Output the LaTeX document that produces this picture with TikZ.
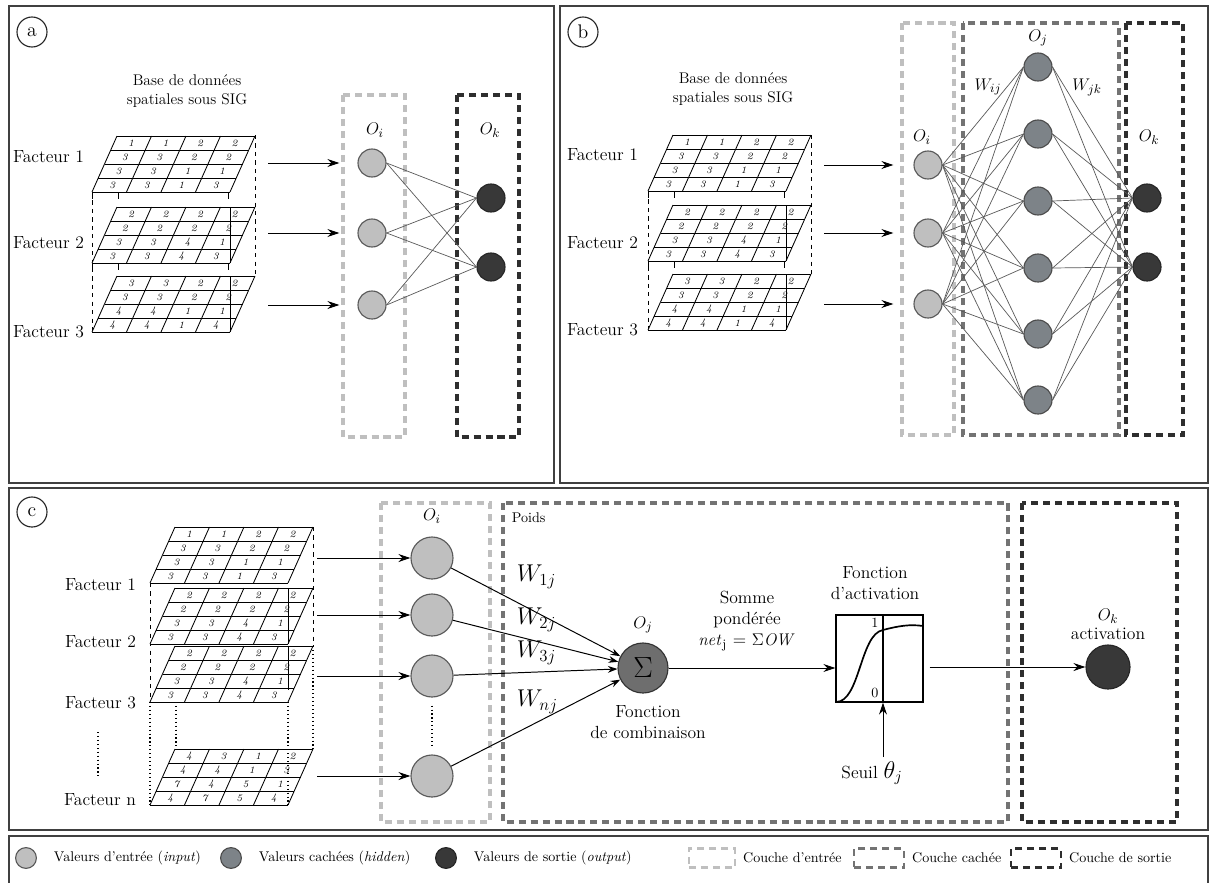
\documentclass[tikz,border=0pt]{standalone}
\usepackage{color}
\usetikzlibrary{positioning}
\usetikzlibrary{arrows.meta}

\definecolor{griscache}{RGB}{125,131,136}

% grille d'un facteur : nom, coin bas-gauche (x,y), lignes de valeurs
\newcommand{\grille}[4]{%
  \begin{scope}[shift={(#2,#3)}]
    \fill[white] (0,0) -- (138,0) -- (163,-56) -- (25,-56) -- cycle;
    \foreach \v in {0,...,4}
      \draw[trame] ({\v*6.25},{-\v*14}) -- ({138+\v*6.25},{-\v*14});
    \foreach \u in {0,...,4}
      \draw[trame] ({\u*34.5},0) -- ({\u*34.5+25},-56);
    \foreach \ligne [count=\r] in {#4}
      \foreach \val [count=\c] in \ligne
        \node[chiffre] (#1-\r\c) at ({(\c-0.5)*34.5+(4.5-\r)*6.25},{-(4.5-\r)*14}) {\val};
  \end{scope}}
% petits pieds sous une grille
\newcommand{\pieds}[2]{%
  \draw[trame] (#1,#2) -- ++(0,7) (#1+26,#2) -- ++(0,7) (#1+136,#2) -- ++(0,7);}

\begin{document}
\begin{tikzpicture}
  [x=0.025cm, y=-0.025cm,
   entree/.style={circle,draw=black!65,fill=black!25,thick,minimum size=0.7cm,inner sep=0},
   cachee/.style={circle,draw=black!70,fill=griscache,thick,minimum size=0.7cm,inner sep=0},
   sortie/.style={circle,draw=black!85,fill=black!78,thick,minimum size=0.7cm,inner sep=0},
   lien/.style={draw=black!65,line width=0.5pt},
   fleche/.style={-{Stealth[length=3mm,width=2mm]},line width=0.7pt},
   petite fleche/.style={-{Stealth[length=2.4mm,width=1.7mm]},line width=0.7pt},
   cadre/.style={draw=black!75,line width=1.1pt},
   couche e/.style={draw=black!25,line width=2.2pt,dash pattern=on 5pt off 3.5pt},
   couche c/.style={draw=black!55,line width=2.2pt,dash pattern=on 5pt off 3.5pt},
   couche s/.style={draw=black!82,line width=2.2pt,dash pattern=on 5pt off 3.5pt},
   lettre/.style={circle,draw=black!85,line width=0.8pt,minimum size=0.75cm,inner sep=0,
                  font=\fontsize{14}{14}\selectfont},
   facteur/.style={anchor=east,font=\fontsize{12.5}{14}\selectfont},
   titre/.style={align=center,font=\fontsize{11}{13}\selectfont},
   texte/.style={align=center,font=\fontsize{12.5}{15}\selectfont},
   etiq/.style={font=\fontsize{13}{13}\selectfont},
   wlab/.style={anchor=west,font=\fontsize{17}{17}\selectfont},
   legende/.style={font=\fontsize{10}{12}\selectfont},
   trame/.style={line width=0.6pt},
   pointille/.style={dotted,line width=0.8pt},
   tirets/.style={dashed,line width=0.6pt},
   chiffre/.style={font=\fontsize{7}{7}\selectfont\itshape,inner sep=0}]

  \useasboundingbox (0,0) rectangle (1213,883);
  \clip (0,0) rectangle (1213,883);

  % ---- a ----
  \draw[cadre] (9,6) rectangle (554,483);
  \node[lettre] (la) at (32,32) {a};
  \node[titre] (bda) at (187,91) {Base de données\\spatiales sous SIG};
  \draw[tirets] (92,192) -- (92,332);
  \draw[tirets] (255,135) -- (255,276);
  \grille{ga1}{92}{192}{{1,1,2,2},{3,3,2,2},{3,3,1,1},{3,3,1,3}}
  \pieds{92}{192}
  \grille{ga2}{92}{263}{{2,2,2,2},{2,2,2,2},{3,3,4,1},{3,3,4,3}}
  \pieds{92}{263}
  \draw[trame] (230,207) -- (230,263);
  \grille{ga3}{92}{332}{{3,3,2,2},{3,3,2,2},{4,4,1,1},{4,4,1,4}}
  \draw[trame] (230,276) -- (230,332);
  \node[facteur] (fa1) at (89,157) {Facteur 1};
  \node[facteur] (fa2) at (89,243) {Facteur 2};
  \node[facteur] (fa3) at (89,332) {Facteur 3};

  \draw[couche e] (343,95) rectangle (405,437);
  \draw[couche s] (457,95) rectangle (519,437);
  \foreach \i/\y in {1/163,2/233,3/305} {
    \node[entree] (ia\i) at (372,\y) {};
    \coordinate (da\i) at (268,\y);
    \draw[fleche,shorten >=0.45cm] (da\i) -- (ia\i);
  }
  \node[sortie] (oa1) at (491,198) {};
  \node[sortie] (oa2) at (491,267) {};
  \foreach \i in {1,2,3}
    \foreach \k in {1,2}
      \draw[lien] (ia\i.east) -- (oa\k.west);
  \node[etiq] (lia) at (375,130) {$O_i$};
  \node[etiq] (loa) at (490,130) {$O_k$};

  % ---- b ----
  \draw[cadre] (560,6) rectangle (1208,483);
  \node[lettre] (lb) at (583,32) {b};
  \node[titre] (bdb) at (733,89) {Base de données\\spatiales sous SIG};
  \draw[tirets] (648,191) -- (648,330);
  \draw[tirets] (811,135) -- (811,274);
  \grille{gb1}{648}{191}{{1,1,2,2},{3,3,2,2},{3,3,1,1},{3,3,1,3}}
  \pieds{648}{191}
  \grille{gb2}{648}{261}{{2,2,2,2},{2,2,2,2},{3,3,4,1},{3,3,4,3}}
  \pieds{648}{261}
  \draw[trame] (786,205) -- (786,261);
  \grille{gb3}{648}{330}{{3,3,2,2},{3,3,2,2},{4,4,1,1},{4,4,1,4}}
  \draw[trame] (786,274) -- (786,330);
  \node[facteur] (fb1) at (643,155) {Facteur 1};
  \node[facteur] (fb2) at (643,243) {Facteur 2};
  \node[facteur] (fb3) at (643,330) {Facteur 3};

  \draw[couche e] (902,23) rectangle (954,435);
  \draw[couche c] (963,23) rectangle (1119,435);
  \draw[couche s] (1126,23) rectangle (1183,435);
  \foreach \i/\y in {1/165,2/233,3/304} {
    \node[entree] (ib\i) at (928,\y) {};
    \coordinate (db\i) at (824,\y);
    \draw[fleche,shorten >=0.5cm] (db\i) -- (ib\i);
  }
  \foreach \j/\y in {1/67,2/134,3/201,4/268,5/334,6/400}
    \node[cachee] (hb\j) at (1038,\y) {};
  \node[sortie] (ob1) at (1147,198) {};
  \node[sortie] (ob2) at (1147,267) {};
  \foreach \i in {1,2,3}
    \foreach \j in {1,...,6}
      \draw[lien] (ib\i.east) -- (hb\j.west);
  \foreach \j in {1,...,6}
    \foreach \k in {1,2}
      \draw[lien] (hb\j.east) -- (ob\k.west);
  \node[etiq] (lib) at (922,137) {$O_i$};
  \node[etiq] (ljb) at (1038,38) {$O_j$};
  \node[etiq] (lkb) at (1149,137) {$O_k$};
  \node[etiq] (wij) at (988,87) {$W_{ij}$};
  \node[etiq] (wjk) at (1087,87) {$W_{jk}$};

  % ---- c ----
  \draw[cadre] (9,488) rectangle (1208,830);
  \node[lettre] (lc) at (32,512) {c};
  \draw[tirets] (150,583) -- (150,702);
  \draw[tirets] (313,527) -- (313,646);
  \draw[pointille] (150,702) -- (150,805);
  \draw[pointille] (176,702) -- (176,749);
  \draw[pointille] (313,646) -- (313,749);
  \grille{gc1}{150}{583}{{1,1,2,2},{3,3,2,2},{3,3,1,1},{3,3,1,3}}
  \grille{gc2}{150}{644}{{2,2,2,2},{2,2,2,2},{3,3,4,1},{3,3,4,3}}
  \draw[trame] (288,588) -- (288,644);
  \grille{gc3}{150}{702}{{2,2,2,2},{2,2,2,2},{3,3,4,1},{3,3,4,3}}
  \draw[trame] (288,646) -- (288,690);
  \grille{gcn}{150}{805}{{4,3,1,2},{4,4,1,3},{7,4,5,1},{4,7,5,4}}
  \draw[pointille] (288,702) -- (288,805);
  \node[facteur] (fc1) at (141,585) {Facteur 1};
  \node[facteur] (fc2) at (141,642) {Facteur 2};
  \node[facteur] (fc3) at (141,703) {Facteur 3};
  \node[facteur] (fcn) at (141,800) {Facteur n};
  \draw[pointille] (98,732) -- (98,777);

  \draw[couche e] (381,503) rectangle (490,822);
  \draw[couche c] (503,503) rectangle (1008,822);
  \draw[couche s] (1022,503) rectangle (1177,822);
  \foreach \i/\y in {1/558,2/615,3/676,4/776} {
    \node[entree,minimum size=1.05cm] (ic\i) at (432,\y) {};
    \coordinate (dc\i) at (317,\y);
    \draw[fleche] (dc\i) -- (ic\i);
  }
  \draw[pointille,shorten >=0.2cm,shorten <=0.2cm] (ic3) -- (ic4);
  \node[etiq] (lic) at (432,516) {$O_i$};
  \node[anchor=west,font=\fontsize{10}{12}\selectfont] (poids) at (507,518) {Poids};

  \node[circle,draw=black!80,fill=black!57,thick,minimum size=1.25cm,inner sep=0,
        font=\fontsize{22}{22}\selectfont] (sum) at (643,668) {$\Sigma$};
  \foreach \i in {1,...,4}
    \draw[petite fleche] (ic\i) -- (sum);
  \node[wlab] (w1) at (512,577) {$W_{1j}$};
  \node[wlab] (w2) at (512,620) {$W_{2j}$};
  \node[wlab] (w3) at (512,653) {$W_{3j}$};
  \node[wlab] (wn) at (512,702) {$W_{nj}$};
  \node[etiq] (ljc) at (643,625) {$O_j$};
  \node[texte] (comb) at (648,722) {Fonction\\de combinaison};
  \node[texte] (somme) at (747,621) {Somme\\pondérée\\$\mathit{net}_{\mathrm{j}}$ = $\Sigma\mathit{OW}$};

  \node[draw,line width=0.9pt,minimum width=2.175cm,minimum height=2.175cm,inner sep=0] (act) at (879.5,658.5) {};
  \draw[line width=1.1pt] (883,615) -- (883,702);
  \draw[line width=1.2pt] (836,702) .. controls (860,702) and (860,634) .. (883,630)
                          .. controls (898,626) and (910,624) .. (923,626);
  \node[font=\fontsize{10}{10}\selectfont] (un) at (875,623) {1};
  \node[font=\fontsize{10}{10}\selectfont] (zero) at (875,693) {0};
  \node[texte] (fact) at (875,583) {Fonction\\d'activation};
  \draw[fleche] (sum) -- (sum -| act.west);
  \coordinate (seuilbas) at (883,757);
  \draw[fleche] (seuilbas) -- (seuilbas |- act.south);
  \node[font=\fontsize{12.5}{12}\selectfont] (seuil) at (872,773) {Seuil {\fontsize{16}{16}\selectfont$\theta_j$}};

  \node[sortie,minimum size=1.1cm] (okc) at (1108,667) {};
  \draw[fleche,shorten <=0.15cm] (act.east |- okc) -- (okc);
  \node[etiq] (lkc) at (1108,616) {$O_k$};
  \node[texte] (actc) at (1108,634) {activation};

  % ---- legende ----
  \draw[cadre] (9,836) rectangle (1208,900);
  \node[entree,minimum size=0.52cm] (le1) at (26,858) {};
  \node[legende,right=0.3cm of le1] (te1) {Valeurs d'entrée (\textit{input})};
  \node[cachee,minimum size=0.52cm] (le2) at (231,858) {};
  \node[legende,right=0.3cm of le2] (te2) {Valeurs cachées (\textit{hidden})};
  \node[sortie,minimum size=0.52cm] (le3) at (446,858) {};
  \node[legende,right=0.3cm of le3] (te3) {Valeurs de sortie (\textit{output})};
  \node[couche e,line width=1.8pt,minimum width=1.15cm,minimum height=0.47cm] (lc1) at (712,858) {};
  \node[legende,right=0.05cm of lc1] (tc1) {Couche d'entrée};
  \node[couche c,line width=1.8pt,minimum width=1.25cm,minimum height=0.47cm] (lc2) at (879,858) {};
  \node[legende,right=0.05cm of lc2] (tc2) {Couche cachée};
  \node[couche s,line width=1.8pt,minimum width=1.25cm,minimum height=0.47cm] (lc3) at (1036,858) {};
  \node[legende,right=0.05cm of lc3] (tc3) {Couche de sortie};
\end{tikzpicture}
\end{document}
